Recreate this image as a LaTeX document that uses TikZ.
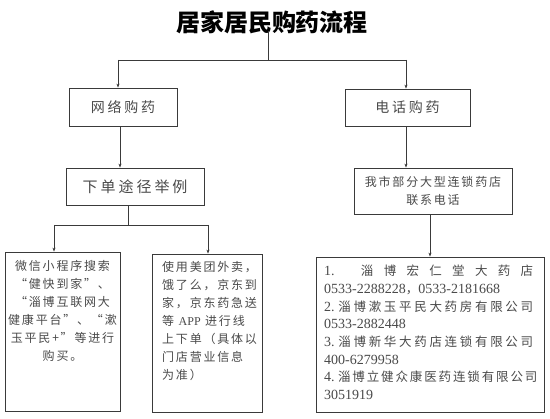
\documentclass[tikz,border=0pt]{standalone}
\usepackage{fontspec}
\setmainfont{Liberation Serif}
\newfontfamily\cjk{Noto Sans CJK SC}
\usetikzlibrary{arrows.meta}
\definecolor{linec}{HTML}{3A3A3A}
\definecolor{txtc}{HTML}{4A4A4A}
\newcommand{\dg}[1]{{\rmfamily\fontsize{14}{17.7}\selectfont #1}}
\newcommand{\dgs}[1]{{\rmfamily\fontsize{12}{18}\selectfont #1}}
\begin{document}
\begin{tikzpicture}[x=1pt,y=-1pt,
  box/.style={draw=linec, line width=0.8pt, inner sep=0pt},
  conn/.style={draw=linec, line width=0.8pt},
  arr/.style={conn, -{Stealth[length=4pt,width=3pt]}},
  bigtxt/.style={text=txtc, font=\cjk\fontsize{14}{16}\selectfont\addfontfeature{LetterSpace=20}},
  smalltxt/.style={text=txtc, inner sep=0pt, font=\cjk\fontsize{12}{18}\selectfont\addfontfeature{LetterSpace=15}}
]
\useasboundingbox (0,0) rectangle (550,419);
\fill[white] (0,0) rectangle (550,419);

% title
\node[font=\cjk\bfseries\fontsize{24}{28}\selectfont, text=black] (title) at (272,22) {居家居民购药流程};

% top boxes
\node[box, minimum width=108, minimum height=38, bigtxt] (net) at (123,107) {网络购药};
\node[box, minimum width=125, minimum height=37, bigtxt] (tel) at (407.5,107.5) {电话购药};

% second level
\node[box, minimum width=138, minimum height=37, text=txtc,
      font=\cjk\fontsize{15}{17}\selectfont\addfontfeature{LetterSpace=20}] (order) at (135,186.5) {下单途径举例};
\node[box, minimum width=158, minimum height=46, smalltxt, align=center] (chain) at (433,191)
  {我市部分大型连锁药店\\联系电话};

% bottom boxes
\node[box, minimum width=115, minimum height=159] (lbox) at (62.5,331.5) {};
\node[box, minimum width=110, minimum height=158] (rbox) at (207,333) {};
\node[box, minimum width=228, minimum height=155] (list) at (430,334.5) {};

\node[smalltxt, align=center, anchor=north] (lt) at (62.5,260)
  {微信小程序搜索\\“健快到家”、\\“淄博互联网大\\健康平台”、“漱\\玉平民+”等进行\\购买。};
\node[smalltxt, align=left, anchor=north west] (rt) at (162,261)
  {使用美团外卖，\\饿了么，京东到\\家，京东药急送\\等 \dgs{APP} 进行线\\上下单（具体以\\门店营业信息\\为准）};
\node[text=txtc, inner sep=0pt, align=left, anchor=north west,
      font=\cjk\fontsize{12.5}{17.7}\selectfont] (lst) at (324,265)
  {\makebox[209pt][s]{\dg{1.} 淄 博 宏 仁 堂 大 药 店}\\
   \dg{0533-2288228}，\dg{0533-2181668}\\
   \makebox[209pt][s]{\dg{2.} 淄 博 漱 玉 平 民 大 药 房 有 限 公 司}\\
   \dg{0533-2882448}\\
   \makebox[209pt][s]{\dg{3.} 淄 博 新 华 大 药 店 连 锁 有 限 公 司}\\
   \dg{400-6279958}\\
   \makebox[209pt][s]{\dg{4.} 淄 博 立 健 众 康 医 药 连 锁 有 限 公 司}\\
   \dg{3051919}};

% connectors
\coordinate (ttop) at (268,31);
\coordinate (jc) at (268,60);
\coordinate (jl) at (118,60);
\coordinate (jr) at (406,60);
\draw[conn] (ttop) -- (jc);
\draw[conn] (jl) -- (jr);
\draw[arr] (jl) -- (jl |- net.north);
\draw[arr] (jr) -- (jr |- tel.north);

\coordinate (nx) at (120,0);
\draw[arr] (net.south -| nx) -- (order.north -| nx);
\draw[arr] (tel.south -| jr) -- (chain.north -| jr);

\coordinate (ob) at (128,225);
\coordinate (bl) at (54,225);
\coordinate (br) at (208,225);
\draw[conn] (order.south -| ob) -- (ob);
\draw[conn] (bl) -- (br);
\draw[arr] (bl) -- (bl |- lbox.north);
\draw[arr] (br) -- (br |- rbox.north);

\coordinate (cx) at (430,0);
\draw[arr] (chain.south -| cx) -- (list.north -| cx);
\end{tikzpicture}
\end{document}
